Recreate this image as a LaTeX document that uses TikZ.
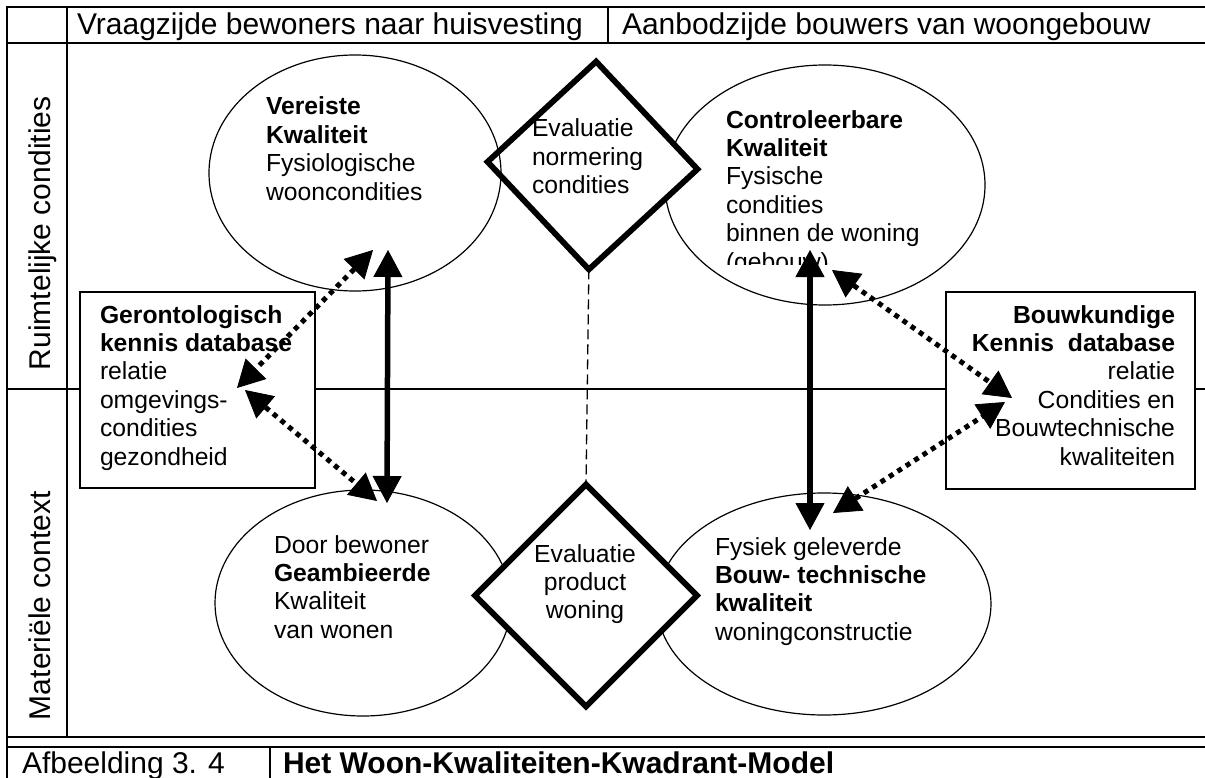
\documentclass[tikz,border=0pt]{standalone}
\usepackage{fontspec}
\setmainfont{Liberation Sans}
\usetikzlibrary{shapes.geometric,arrows.meta,calc}

\begin{document}
\begin{tikzpicture}[x=1pt,y=-1pt,
  >={Triangle[length=27pt,width=29pt,line width=0.8pt]},
  frame/.style={line width=1.8pt},
  blob/.style={ellipse, draw, line width=1.2pt, inner sep=0pt, outer sep=0pt},
  gate/.style={diamond, draw, fill=white, line width=5.8pt, inner sep=0pt, outer sep=0pt, line join=miter},
  kbox/.style={rectangle, draw, fill=white, line width=1.6pt, inner sep=0pt, outer sep=0pt},
  body/.style={inner sep=0pt, outer sep=0pt, font=\fontsize{24.7}{28.4}\selectfont},
  head/.style={inner sep=0pt, outer sep=0pt, font=\fontsize{30}{34}\selectfont},
  solidlink/.style={line width=5.5pt, <->},
  dotlink/.style={line width=5pt, dash pattern=on 5pt off 5pt, <->},
  guide/.style={line width=1.3pt, dash pattern=on 10pt off 5pt},
]
\useasboundingbox (0,0) rectangle (1205,778);

% table frame
\draw[frame] (7,785) -- (7,7) -- (1210,7);
\draw[frame] (7,43) -- (1210,43);
\draw[frame] (67,7) -- (67,737);
\draw[frame] (608,7) -- (608,43);
\draw[frame] (7,389) -- (1210,389);
\draw[frame] (7,737) -- (1210,737);
\draw[frame] (7,747) -- (1210,747);
\draw[frame] (270,747) -- (270,785);

% quadrant ellipses and evaluation diamonds
\node[blob, minimum width=320pt, minimum height=240pt] (tr) at (825,185) {};
\node[blob, minimum width=296pt, minimum height=226pt] (bl) at (363,603) {};
\node[blob, minimum width=334pt, minimum height=222pt] (br) at (824,604) {};
\node[gate, minimum width=210pt, minimum height=208pt, rotate=-2] (dtop) at (592.5,165.5) {};
\node[gate, minimum width=222pt, minimum height=222pt] (dbot) at (586,595.5) {};
\node[blob, minimum width=292pt, minimum height=236pt] (tl) at (355,173) {};

% knowledge databases
\node[kbox, minimum width=235pt, minimum height=196pt] (lbox) at (197.5,390) {};
\node[kbox, minimum width=249pt, minimum height=197pt] (rbox) at (1070.5,390.5) {};

\draw[guide] (dtop.south) -- (dbot.north);

% headings
\node[head, anchor=base west] (cola) at (77,35) {Vraagzijde bewoners naar huisvesting};
\node[head, anchor=base west] (colb) at (622,35) {Aanbodzijde bouwers van woongebouw};
\node[head, anchor=base west, rotate=90] (rowa) at (50,370) {Ruimtelijke condities};
\node[head, anchor=base west, rotate=90] (rowb) at (50,720) {Materiële context};
\node[head, anchor=base west] (capa) at (22,773) {Afbeelding 3. 4};
\node[head, anchor=base west] (capb) at (283,773) {\textbf{Het Woon-Kwaliteiten-Kwadrant-Model}};

% texts (anchored on the baseline of their last line)
\node[body, anchor=base west, align=left] (tlt) at (266,200.2)
  {\textbf{Vereiste}\\\textbf{Kwaliteit}\\Fysiologische\\wooncondities};
\begin{scope}
  \clip (700,60) rectangle (1000,265);
  \node[body, anchor=base west, align=left] (trt) at (726,270)
    {\textbf{Controleerbare}\\\textbf{Kwaliteit}\\Fysische\\condities\\binnen de woning\\(gebouw)};
\end{scope}
\node[body, anchor=base west, align=left] (blt) at (274,638.2)
  {Door bewoner\\\textbf{Geambieerde}\\Kwaliteit\\van wonen};
\node[body, anchor=base west, align=left] (brt) at (715,640.2)
  {Fysiek geleverde\\\textbf{Bouw- technische}\\\textbf{kwaliteit}\\woningconstructie};
\node[body, anchor=base west, align=left] (dtopt) at (532,193.8)
  {Evaluatie\\normering\\condities};
\node[body, anchor=base, align=center] (dbott) at (585,618.8)
  {Evaluatie\\product\\woning};
\node[body, anchor=base west, align=left] (lboxt) at (100,465)
  {\textbf{Gerontologisch}\\\textbf{kennis database}\\relatie\\omgevings-\\condities\\gezondheid};
\node[body, anchor=base east, align=right] (rboxt) at (1175,465)
  {\textbf{Bouwkundige}\\\textbf{Kennis\ \ database}\\relatie\\Condities en\\Bouwtechnische\\kwaliteiten};

% connector ends
\coordinate (s1a) at ($(tl.center)+(33,77)$);
\coordinate (s1b) at ($(bl.center)+(24,-100)$);
\coordinate (s2a) at ($(tr.center)+(-15,65)$);
\coordinate (s2b) at ($(br.center)+(-14,-74)$);
\coordinate (d1a) at ($(tl.center)+(18,77)$);
\coordinate (d1b) at ($(lbox.center)+(39.5,-2)$);
\coordinate (d2a) at ($(lbox.center)+(47.5,0)$);
\coordinate (d2b) at ($(bl.center)+(14,-102)$);
\coordinate (d3a) at ($(tr.center)+(7,85)$);
\coordinate (d3b) at ($(rbox.center)+(-58.5,7.5)$);
\coordinate (d4a) at ($(br.center)+(9,-91)$);
\coordinate (d4b) at ($(rbox.center)+(-65.5,11.5)$);

\draw[solidlink] (s1a) -- (s1b);
\draw[solidlink] (s2a) -- (s2b);
\draw[dotlink] (d1a) -- (d1b);
\draw[dotlink] (d2a) -- (d2b);
\draw[dotlink] (d3a) -- (d3b);
\draw[dotlink] (d4a) -- (d4b);
\end{tikzpicture}
\end{document}
